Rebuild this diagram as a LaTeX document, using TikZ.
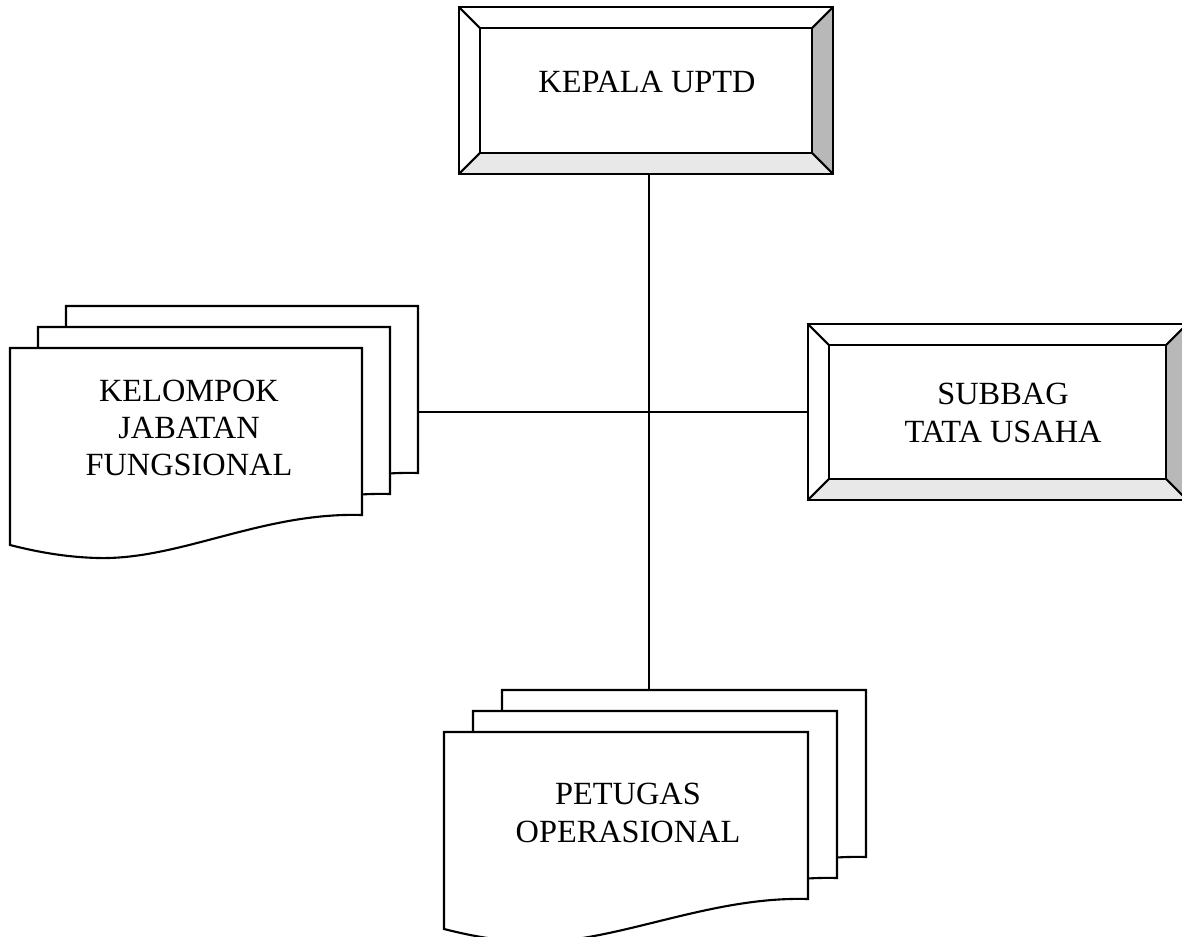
\documentclass[tikz,border=0pt]{standalone}
\usepackage{fontspec}
\setmainfont{Liberation Serif}
\usetikzlibrary{calc}
\tikzset{
  docsheet/.pic={
    \filldraw[fill=white] (0,0) -- (#1,0) -- (#1,167)
      .. controls (#1-100,164) and (170,212) .. (88,210)
      .. controls (50,209) and (20,202) .. (0,197) -- cycle;
    \coordinate (-ne) at (#1,0);
  },
  bevelbox/.style={inner sep=0pt},
  bevdark/.style={fill=black!28},
  bevlight/.style={fill=black!9},
  orgtext/.style={font=\fontsize{9.2}{10.6}\selectfont,align=center}
}
\begin{document}
\begin{tikzpicture}[x=0.01cm,y=-0.01cm,line width=0.6pt]
\useasboundingbox (0,0) rectangle (1182,936);
% kepala
\node[bevelbox,minimum width=3.72cm,minimum height=1.65cm] (kepala) at (646,90.5) {};
\coordinate (kepalaA) at ($(kepala.north west)+(21,21)$);
\coordinate (kepalaB) at ($(kepala.north east)+(-21,21)$);
\coordinate (kepalaC) at ($(kepala.south east)+(-21,-21)$);
\coordinate (kepalaD) at ($(kepala.south west)+(21,-21)$);
\coordinate (kepalaS) at ($(kepala.south)+(3,0)$);
\fill[bevdark] (kepala.north east) -- (kepala.south east) -- (kepalaC) -- (kepalaB) -- cycle;
\fill[bevlight] (kepala.south west) -- (kepala.south east) -- (kepalaC) -- (kepalaD) -- cycle;
\draw (kepala.north west) rectangle (kepala.south east);
\draw (kepalaA) rectangle (kepalaC);
\draw (kepala.north west) -- (kepalaA);
\draw (kepala.north east) -- (kepalaB);
\draw (kepala.south east) -- (kepalaC);
\draw (kepala.south west) -- (kepalaD);
\node[orgtext] (kepalatext) at (647,82) {KEPALA UPTD};
% subbag
\node[bevelbox,minimum width=3.77cm,minimum height=1.74cm] (subbag) at (997.5,412) {};
\coordinate (subbagA) at ($(subbag.north west)+(21,21)$);
\coordinate (subbagB) at ($(subbag.north east)+(-21,21)$);
\coordinate (subbagC) at ($(subbag.south east)+(-21,-21)$);
\coordinate (subbagD) at ($(subbag.south west)+(21,-21)$);
\fill[bevdark] (subbag.north east) -- (subbag.south east) -- (subbagC) -- (subbagB) -- cycle;
\fill[bevlight] (subbag.south west) -- (subbag.south east) -- (subbagC) -- (subbagD) -- cycle;
\draw (subbag.north west) rectangle (subbag.south east);
\draw (subbagA) rectangle (subbagC);
\draw (subbag.north west) -- (subbagA);
\draw (subbag.north east) -- (subbagB);
\draw (subbag.south east) -- (subbagC);
\draw (subbag.south west) -- (subbagD);
\node[orgtext] (subbagtext) at (1003,413) {SUBBAG\\TATA USAHA};
% kelompok jabatan
\pic (kelompokC) at (66,306) {docsheet=352};
\pic (kelompokB) at (38,327) {docsheet=352};
\pic (kelompokA) at (10,348) {docsheet=352};
\node[orgtext] (kelompok) at (189,428) {KELOMPOK\\JABATAN\\FUNGSIONAL};
% petugas
\pic (petugasC) at (502,690) {docsheet=364};
\pic (petugasB) at (473,711) {docsheet=364};
\pic (petugasA) at (444,732) {docsheet=364};
\node[orgtext] (petugas) at (628,813) {PETUGAS\\OPERASIONAL};
% garis
\draw (kepalaS) -- (kepalaS |- petugasC-ne);
\draw (subbag.west -| kelompokC-ne) -- (subbag.west);
\end{tikzpicture}
\end{document}
